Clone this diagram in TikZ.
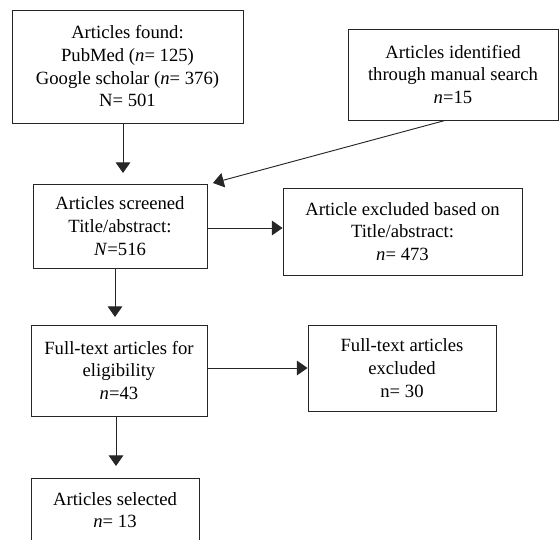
\documentclass[tikz,border=0pt]{standalone}
\usepackage{fontspec}
\setmainfont{Liberation Serif}
\usetikzlibrary{arrows.meta,calc}
\begin{document}
\begin{tikzpicture}[x=0.75pt,y=-0.75pt,
  box/.style={draw=black!85,line width=0.7pt,rectangle,inner sep=0pt,align=center,
    font=\fontsize{14}{17}\selectfont},
  arr/.style={draw=black!85,line width=0.7pt,-{Triangle[length=8pt,width=11pt]}}]
\useasboundingbox (0,0) rectangle (559,539);
\node[box,minimum width=173.25pt,minimum height=84.75pt] (b1) at (127.5,66.5)
  {Articles found:\\PubMed (\textit{n}= 125)\\Google scholar (\textit{n}= 376)\\N= 501};
\node[box,minimum width=157.5pt,minimum height=68.25pt] (b2) at (453,74.5)
  {Articles identified\\through manual search\\\textit{n}=15};
\node[box,minimum width=130.5pt,minimum height=63pt] (b3) at (120,226)
  {Articles screened\\Title/abstract:\\\textit{N}=516};
\node[box,minimum width=179.25pt,minimum height=65.25pt] (b4) at (402.5,231.5)
  {Article excluded based on\\Title/abstract:\\\textit{n}= 473};
\node[box,minimum width=132pt,minimum height=68.25pt] (b5) at (119,370.5)
  {Full-text articles for\\eligibility\\\textit{n}=43};
\node[box,minimum width=141pt,minimum height=64.5pt] (b6) at (402,368)
  {Full-text articles\\excluded\\n= 30};
\node[box,minimum width=126pt,minimum height=48pt] (b7) at (115,510)
  {Articles selected\\\textit{n}= 13};
\coordinate (t1) at (123,173);
\coordinate (t2) at (213,183);
\coordinate (t4) at (115,317);
\coordinate (t6) at (116,466);
\draw[arr] (b1.south -| t1) -- (t1);
\draw[arr] ($(b2.south)+(-8,0)$) -- (t2);
\draw[arr] (b3.east |- 0,228) -- (b4.west |- 0,228);
\draw[arr] (b3.south -| t4) -- (t4);
\draw[arr] (b5.east |- 0,368) -- (b6.west);
\draw[arr] (b5.south -| t6) -- (t6);
\end{tikzpicture}
\end{document}
